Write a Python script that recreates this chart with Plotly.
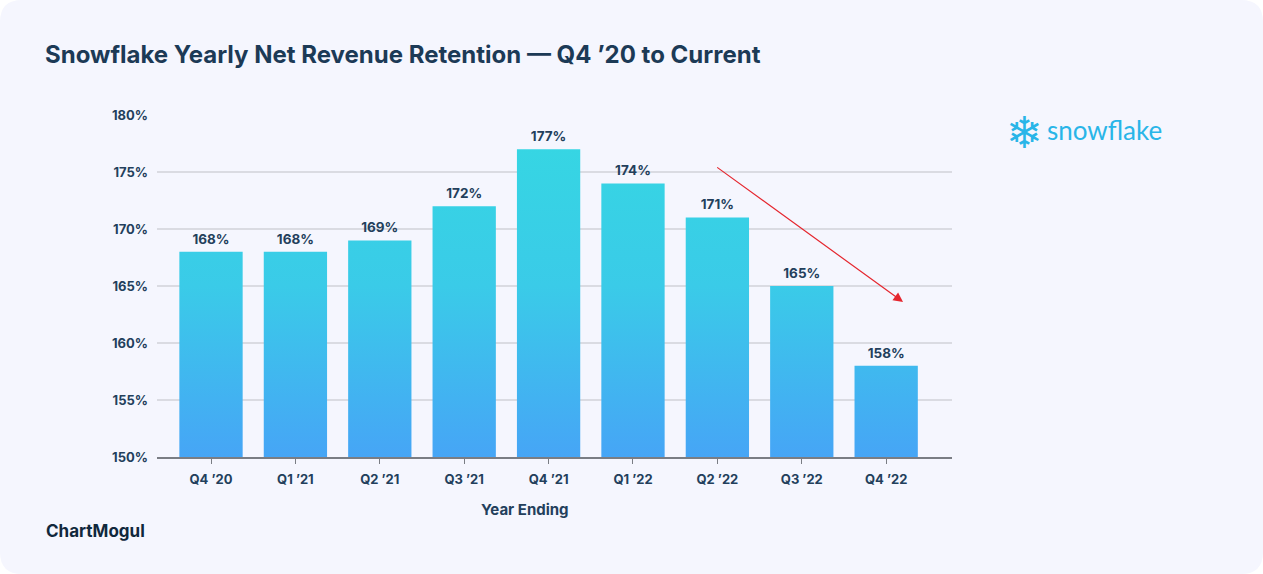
import plotly.graph_objects as go

categories = ["Q4 ’20", "Q1 ’21", "Q2 ’21", "Q3 ’21", "Q4 ’21", "Q1 ’22", "Q2 ’22", "Q3 ’22", "Q4 ’22"]
nrr_values = [168, 168, 169, 172, 177, 174, 171, 165, 158]
y_ticks = [150, 155, 160, 165, 170, 175, 180]
y_tick_labels = ["150%", "155%", "160%", "165%", "170%", "175%", "180%"]

W, H = 1263, 574
L, R, T, B = 157, 311, 115, 117
PW, PH = W - L - R, H - T - B
BAR_W = 0.75
X_RANGE = [-0.64, 8.78]
Y_RANGE = [150, 180]

NAVY = "#1C3A56"
TXT = "#233F5C"

def px_x(px):
    return (px - L) / PW

def px_y(py):
    return 1 - (py - T) / PH

fig = go.Figure()

# bars as filled polygons (shared vertical gradient)
xs, ys = [], []
for i, v in enumerate(nrr_values):
    x0, x1 = i - BAR_W / 2, i + BAR_W / 2
    xs += [x0, x1, x1, x0, x0, None]
    ys += [Y_RANGE[0], Y_RANGE[0], v, v, Y_RANGE[0], None]
fig.add_trace(go.Scatter(
    x=xs, y=ys, mode="lines", fill="toself",
    line=dict(width=0),
    fillgradient=dict(type="vertical", start=150, stop=180,
                      colorscale=[[0, "#46A5F6"], [0.5, "#3ACBE8"], [1, "#35D8E2"]]),
    hoverinfo="skip", showlegend=False,
))

# value labels
fig.add_trace(go.Scatter(
    x=list(range(len(categories))), y=nrr_values, mode="markers+text",
    marker=dict(size=6, color="rgba(0,0,0,0)"),
    text=[f"{v}%" for v in nrr_values], textposition="top center",
    textfont=dict(family="Inter", size=13.5, color=TXT, weight="bold"),
    cliponaxis=False, showlegend=False, hoverinfo="skip",
))

# card background with rounded corners
r = 22
def pt(px, py):
    return f"{px_x(px)},{px_y(py)}"
path = (f"M {pt(r,0)} L {pt(W-r,0)} Q {pt(W,0)} {pt(W,r)} L {pt(W,H-r)} Q {pt(W,H)} {pt(W-r,H)} "
        f"L {pt(r,H)} Q {pt(0,H)} {pt(0,H-r)} L {pt(0,r)} Q {pt(0,0)} {pt(r,0)} Z")
fig.add_shape(type="path", path=path, xref="paper", yref="paper",
              fillcolor="#F5F6FE", line=dict(width=0), layer="below")

# trend arrow
fig.add_annotation(x=8.2, y=163.6, ax=5.98, ay=175.5, xref="x", yref="y", axref="x", ayref="y",
                   showarrow=True, arrowhead=2, arrowsize=1.6, arrowwidth=1.2,
                   arrowcolor="#E5262E", text="")

# x axis title
fig.add_annotation(x=px_x(525), y=px_y(509), xref="paper", yref="paper", text="<b>Year Ending</b>",
                   showarrow=False, xanchor="center", yanchor="middle",
                   font=dict(family="Inter", size=15, color=TXT))

# ChartMogul
fig.add_annotation(x=px_x(44), y=px_y(531), xref="paper", yref="paper", text="<b>ChartMogul</b>",
                   showarrow=False, xanchor="left", yanchor="middle",
                   font=dict(family="Inter", size=17, color="#10283C"))

# snowflake logo
fig.add_annotation(x=px_x(1024), y=px_y(133), xref="paper", yref="paper", text="❄",
                   showarrow=False, xanchor="center", yanchor="middle",
                   font=dict(family="DejaVu Sans", size=44, color="#29B5E8"))
fig.add_annotation(x=px_x(1045), y=px_y(130), xref="paper", yref="paper", text="snowflake",
                   showarrow=False, xanchor="left", yanchor="middle",
                   font=dict(family="Lato", size=26, color="#29B5E8"))

fig.update_layout(
    width=W, height=H,
    margin=dict(l=L, r=R, t=T, b=B, pad=0),
    paper_bgcolor="white", plot_bgcolor="rgba(0,0,0,0)",
    title=dict(text="<b>Snowflake Yearly Net Revenue Retention — Q4 ’20 to Current</b>",
               x=45 / W, xanchor="left", xref="container", y=1 - 55 / H, yanchor="middle", yref="container",
               font=dict(family="Inter", size=24, color=NAVY)),
    xaxis=dict(range=X_RANGE, tickvals=list(range(len(categories))), ticktext=categories,
               showgrid=False, zeroline=False, showline=True, linecolor="#7A7D84", linewidth=1.5,
               ticks="outside", ticklen=5, tickcolor="#7A7D84", tickwidth=1, ticklabelstandoff=5,
               tickfont=dict(family="Inter", size=13, color=TXT, weight="bold"),
               fixedrange=True),
    yaxis=dict(range=Y_RANGE, tickvals=y_ticks, ticktext=y_tick_labels,
               showgrid=True, gridcolor="#DADBE2", gridwidth=1.5, zeroline=False, showline=False,
               ticks="", ticklabelstandoff=8,
               tickfont=dict(family="Inter", size=13, color=TXT, weight="bold"),
               fixedrange=True),
    showlegend=False,
)

fig.write_html("out.html", config={"displayModeBar": False},
               post_script="document.body.style.margin='0';document.body.style.overflow='hidden';")
